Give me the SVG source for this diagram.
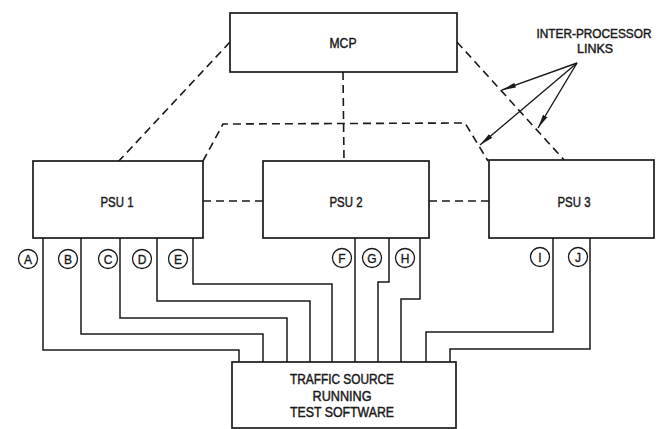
<svg xmlns="http://www.w3.org/2000/svg" width="664" height="429" viewBox="0 0 664 429">
<style>
.box{fill:#fff;stroke:#1a1a1a;stroke-width:1.7}
.dash{fill:none;stroke:#1a1a1a;stroke-width:1.6;stroke-dasharray:8 5}
.wire{fill:none;stroke:#1a1a1a;stroke-width:1.5}
.lbl{font-family:"Liberation Sans",Arial,sans-serif;fill:#1a1a1a;stroke:#1a1a1a;stroke-width:0.45;text-anchor:middle}
.big{font-size:14px}
.cap{font-size:12.5px}
.sm{font-size:12px;stroke-width:0.35}
.circ{fill:#fff;stroke:#1a1a1a;stroke-width:1.3}
.arr{fill:none;stroke:#1a1a1a;stroke-width:1.4}
</style>
<defs>
<marker id="ah" viewBox="0 0 14 6" refX="14" refY="3" markerWidth="14" markerHeight="6" markerUnits="userSpaceOnUse" orient="auto">
<path d="M0,0.5 L14,3 L0,5.5 Z" fill="#1a1a1a"/>
</marker>
</defs>
<rect width="664" height="429" fill="#fff"/>
<g id="connectors">
<path class="dash" d="M230,42 L118,162"/>
<path class="dash" d="M457,42 L565,161"/>
<path class="dash" d="M203,161 L223,124 L465,123 L488,161"/>
<path class="dash" d="M343,72 L344,161"/>
<path class="dash" d="M203,201 L263,201"/>
<path class="dash" d="M429,201 L489,201"/>
<path class="wire" d="M43,238 V350 H239 V362"/>
<path class="wire" d="M81,238 V334 H263 V362"/>
<path class="wire" d="M120,238 V318 H287 V362"/>
<path class="wire" d="M157,238 V301 H310 V362"/>
<path class="wire" d="M193,238 V284 H332 V362"/>
<path class="wire" d="M355,238 V362"/>
<path class="wire" d="M389,238 V282 H378 V362"/>
<path class="wire" d="M420,238 V299 H401 V362"/>
<path class="wire" d="M553,238 V332 H426 V362"/>
<path class="wire" d="M590,238 V349 H450 V362"/>
<path class="arr" d="M577,63 L502,90" marker-end="url(#ah)"/>
<path class="arr" d="M577,63 L480,145" marker-end="url(#ah)"/>
<path class="arr" d="M577,63 L538,128" marker-end="url(#ah)"/>
</g>
<g id="mcp">
<rect class="box" x="230" y="13" width="227" height="59"/>
<text class="lbl big" x="343" y="48" textLength="27" lengthAdjust="spacingAndGlyphs">MCP</text>
</g>
<g id="psu1">
<rect class="box" x="33" y="161" width="170" height="77"/>
<text class="lbl big" x="117" y="207" textLength="33" lengthAdjust="spacingAndGlyphs">PSU 1</text>
</g>
<g id="psu2">
<rect class="box" x="263" y="161" width="166" height="77"/>
<text class="lbl big" x="346" y="207" textLength="33" lengthAdjust="spacingAndGlyphs">PSU 2</text>
</g>
<g id="psu3">
<rect class="box" x="489" y="160" width="165" height="78"/>
<text class="lbl big" x="574" y="207" textLength="33" lengthAdjust="spacingAndGlyphs">PSU 3</text>
</g>
<g id="traffic">
<rect class="box" x="232" y="362" width="224" height="66"/>
<text class="lbl big" x="342" y="384" textLength="104" lengthAdjust="spacingAndGlyphs">TRAFFIC SOURCE</text>
<text class="lbl big" x="342" y="401" textLength="59" lengthAdjust="spacingAndGlyphs">RUNNING</text>
<text class="lbl big" x="342" y="417" textLength="104" lengthAdjust="spacingAndGlyphs">TEST SOFTWARE</text>
</g>
<g id="links-label">
<text class="lbl cap" x="594" y="38" textLength="115" lengthAdjust="spacingAndGlyphs">INTER-PROCESSOR</text>
<text class="lbl cap" x="595" y="53" textLength="36" lengthAdjust="spacingAndGlyphs">LINKS</text>
</g>
<g id="label-A"><circle class="circ" cx="28" cy="259" r="9.5"/><text class="lbl sm" x="28" y="263.5">A</text></g>
<g id="label-B"><circle class="circ" cx="68" cy="259" r="9.5"/><text class="lbl sm" x="68" y="263.5">B</text></g>
<g id="label-C"><circle class="circ" cx="108" cy="259" r="9.5"/><text class="lbl sm" x="108" y="263.5">C</text></g>
<g id="label-D"><circle class="circ" cx="142" cy="259" r="9.5"/><text class="lbl sm" x="142" y="263.5">D</text></g>
<g id="label-E"><circle class="circ" cx="178" cy="259" r="9.5"/><text class="lbl sm" x="178" y="263.5">E</text></g>
<g id="label-F"><circle class="circ" cx="342" cy="258" r="9.5"/><text class="lbl sm" x="342" y="262.5">F</text></g>
<g id="label-G"><circle class="circ" cx="372" cy="258" r="9.5"/><text class="lbl sm" x="372" y="262.5">G</text></g>
<g id="label-H"><circle class="circ" cx="405" cy="258" r="9.5"/><text class="lbl sm" x="405" y="262.5">H</text></g>
<g id="label-I"><circle class="circ" cx="540" cy="257" r="9.5"/><text class="lbl sm" x="540" y="261.5">I</text></g>
<g id="label-J"><circle class="circ" cx="578" cy="257" r="9.5"/><text class="lbl sm" x="578" y="261.5">J</text></g>
</svg>
